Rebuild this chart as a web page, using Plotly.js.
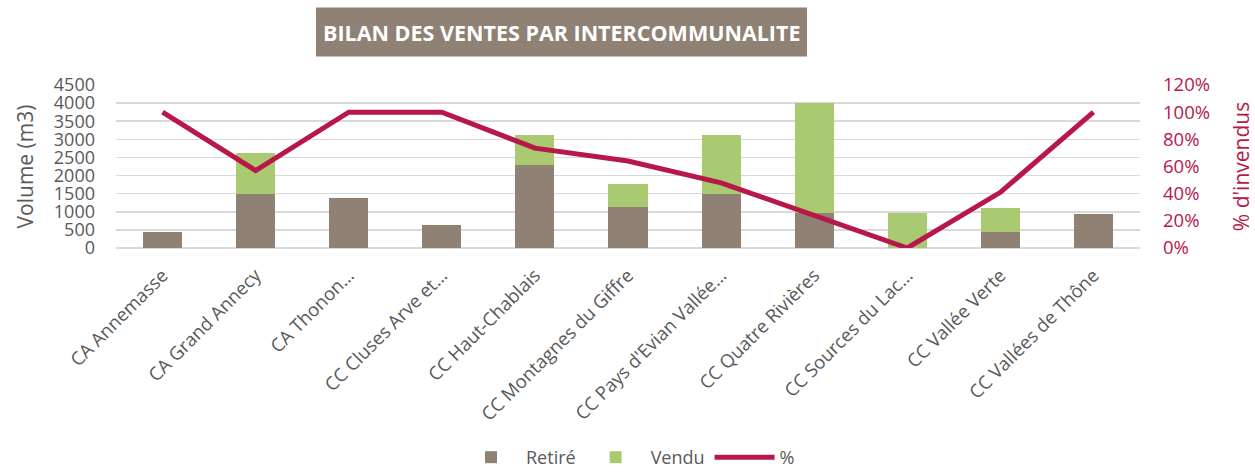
<!DOCTYPE html>
<html>
<head>
<meta charset="utf-8">
<script src="https://cdn.plot.ly/plotly-3.0.1.min.js"></script>
<style>html,body{margin:0;padding:0;background:#fff;}#chart{width:1255px;height:476px;}</style>
</head>
<body>
<div id="chart"></div>
<script>
const categories = ["CA Annemasse", "CA Grand Annecy", "CA Thonon…", "CC Cluses Arve et…", "CC Haut-Chablais", "CC Montagnes du Giffre", "CC Pays d'Evian Vallée…", "CC Quatre Rivières", "CC Sources du Lac…", "CC Vallée Verte", "CC Vallées de Thône"];
const retire = [430, 1500, 1380, 630, 2290, 1130, 1500, 970, 0, 450, 945];
const vendu = [0, 1120, 0, 0, 825, 640, 1610, 3040, 970, 650, 0];
const pctInvendus = [1.00, 0.57, 1.00, 1.00, 0.735, 0.64, 0.48, 0.24, 0.00, 0.41, 1.00];

const gray = '#595959';
const crimson = '#B8174A';
const font = "'Open Sans', 'Noto Sans', sans-serif";

const traces = [
  {type: 'bar', name: 'Retiré', x: categories, y: retire, marker: {color: '#8F8275'}, hoverinfo: 'x+y'},
  {type: 'bar', name: 'Vendu', x: categories, y: vendu, marker: {color: '#A9CA70'}, hoverinfo: 'x+y'},
  {type: 'scatter', mode: 'lines', name: '%', x: categories, y: pctInvendus, yaxis: 'y2', line: {color: crimson, width: 5}}
];

const layout = {
  width: 1255, height: 476,
  margin: {l: 116, r: 115, t: 85, b: 228},
  paper_bgcolor: '#ffffff', plot_bgcolor: '#ffffff',
  font: {family: font, color: gray},
  barmode: 'stack', bargap: 0.58,
  showlegend: true,
  legend: {orientation: 'h', x: 0.5, xanchor: 'center', y: 0, yref: 'container', yanchor: 'bottom', font: {size: 18, color: gray}, traceorder: 'normal', itemwidth: 60},
  xaxis: {
    type: 'category', tickangle: -45, tickfont: {size: 18.5, color: gray},
    showgrid: false, showline: false, ticks: '', ticklabelstandoff: 12, automargin: false
  },
  yaxis: {
    range: [0, 4500], dtick: 500, tick0: 0, automargin: false,
    showgrid: true, gridcolor: '#D9D9D9', gridwidth: 1.5,
    zeroline: true, zerolinecolor: '#D9D9D9', zerolinewidth: 1.5,
    showline: false, ticks: '', ticklabelstandoff: 20,
    tickfont: {size: 18, color: gray},
    title: {text: 'Volume (m3)', font: {size: 21, color: gray}, standoff: 14}
  },
  yaxis2: {
    overlaying: 'y', side: 'right', automargin: false,
    range: [0, 1.2], dtick: 0.2, tick0: 0, tickformat: '.0%',
    showgrid: false, zeroline: false, showline: false, ticks: '', ticklabelstandoff: 22,
    tickfont: {size: 18.5, color: crimson},
    title: {text: "% d'invendus", font: {size: 21, color: crimson}, standoff: 26}
  },
  shapes: [
    {type: 'rect', xref: 'paper', yref: 'paper', x0: 0.1953, x1: 0.6748, y0: 1.175, y1: 1.475,
     fillcolor: '#8F8275', line: {width: 0}, layer: 'above'}
  ],
  annotations: [
    {xref: 'paper', yref: 'paper', x: 0.435, y: 1.325, xanchor: 'center', yanchor: 'middle', showarrow: false,
     text: '<b>BILAN DES VENTES PAR INTERCOMMUNALITE</b>',
     font: {family: "'Open Sans', sans-serif", size: 21.5, color: '#ffffff'}}
  ]
};

Plotly.newPlot('chart', traces, layout, {displayModeBar: false, staticPlot: true});
</script>
</body>
</html>
